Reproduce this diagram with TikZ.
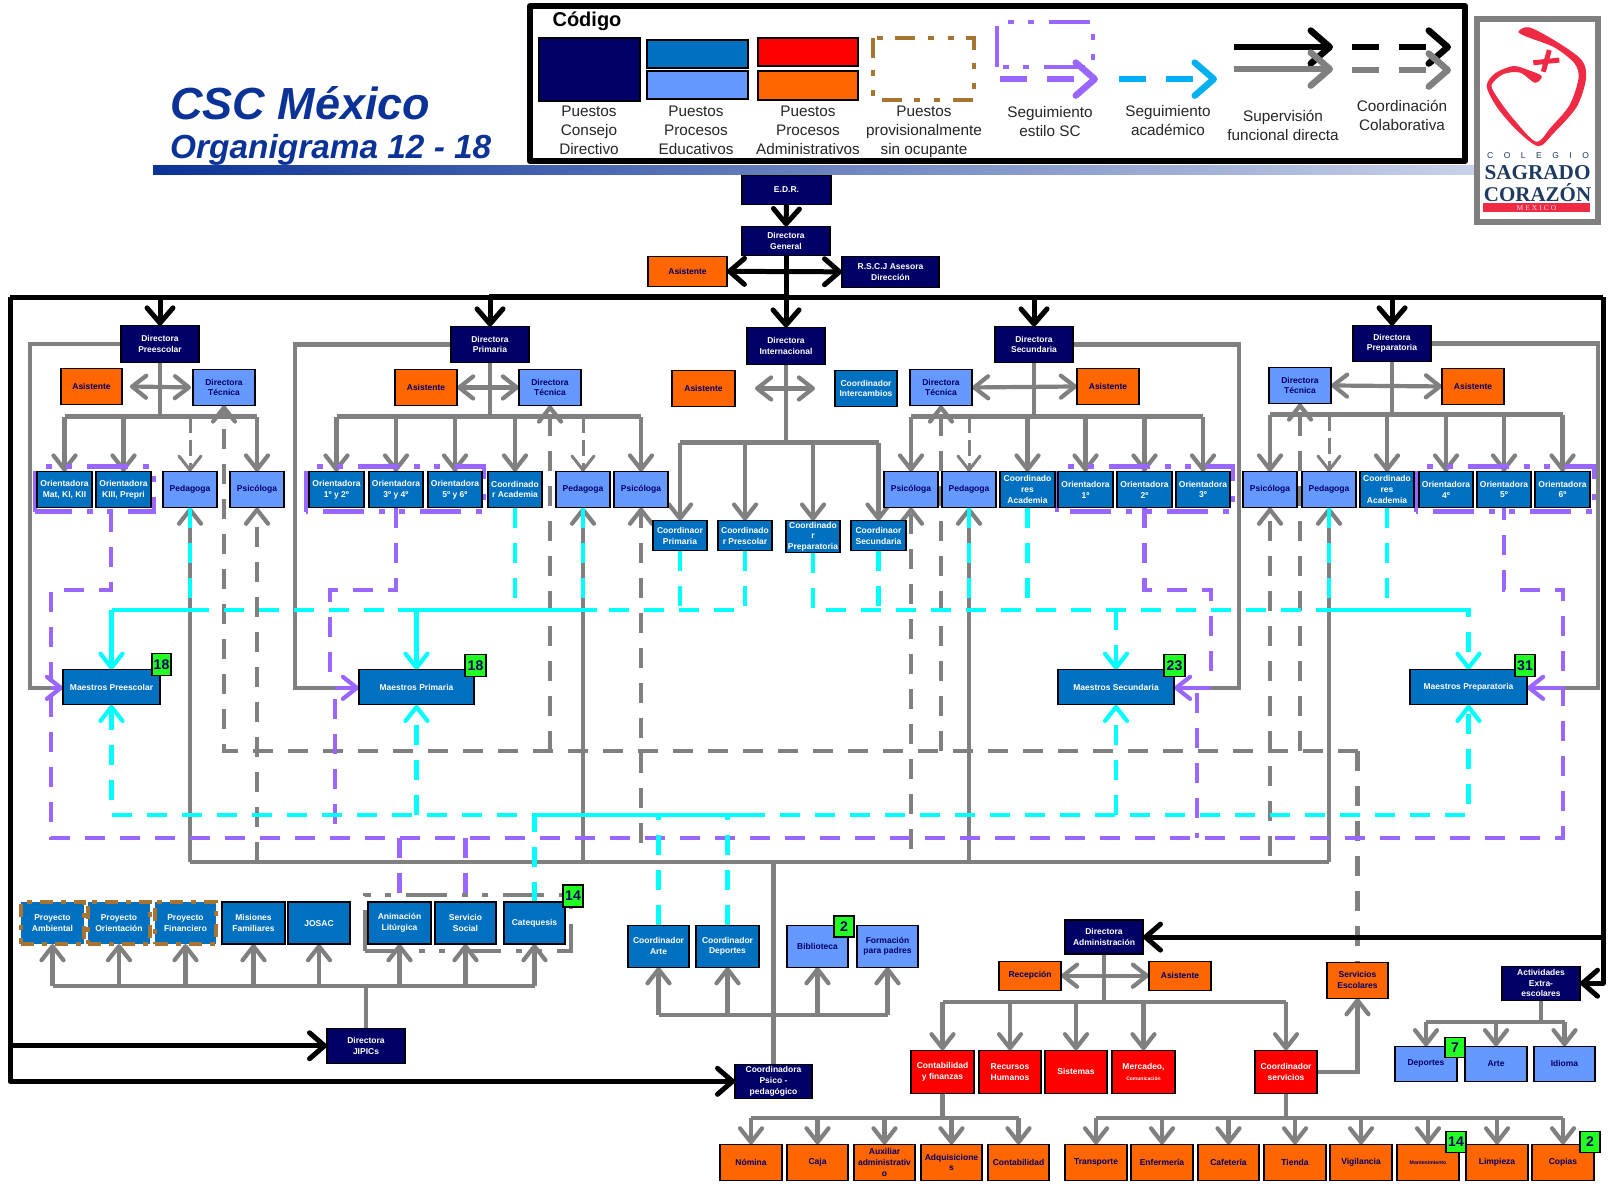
\documentclass[tikz,border=0pt]{standalone}
\usepackage{fontspec}
\setmainfont{Liberation Sans}
\newfontfamily\logoserif{Liberation Serif}
\usetikzlibrary{arrows.meta,calc}
\definecolor{cnavy}{HTML}{000066}
\definecolor{cblue}{HTML}{0070C0}
\definecolor{clight}{HTML}{6699FF}
\definecolor{cred}{HTML}{FF0000}
\definecolor{corange}{HTML}{FF6600}
\definecolor{cgreen}{HTML}{22FF22}
\definecolor{cgray}{HTML}{808080}
\definecolor{cpurple}{HTML}{9966FF}
\definecolor{ccyan}{HTML}{00FFFF}
\definecolor{csky}{HTML}{00B0F0}
\definecolor{cbrown}{HTML}{A87432}
\definecolor{ctitle}{HTML}{0B3296}
\definecolor{clogo}{HTML}{1F3A5F}
\definecolor{clogored}{HTML}{EE2A45}
\pgfdeclarelayer{bg}
\pgfdeclarelayer{conn}
\pgfsetlayers{bg,conn,main}
\newcommand\fs[2]{\fontsize{#1}{#2}\selectfont}
\newcommand\bx[7]{%
  \pgfmathsetmacro\bxx{(#2+#4)/2}\pgfmathsetmacro\bxy{(#3+#5)/2}%
  \pgfmathsetmacro\bxw{#4-#2}\pgfmathsetmacro\bxh{#5-#3}%
  \node[#6,minimum width=\bxw pt,minimum height=\bxh pt] (#1) at (\bxx,\bxy) {#7};}
\tikzset{
  x=1pt,y=-1.0012pt,
  tipS/.tip={Straight Barb[length=14pt,width=22pt,round]},
  tipB/.tip={Straight Barb[length=15pt,width=26pt,round]},
  tipL/.tip={Straight Barb[length=19pt,width=33pt,round]},
  bbase/.style={draw=black,line width=1.3pt,inner sep=0pt,outer sep=0pt,align=center,font=\fs{8.5}{10.7}\bfseries},
  nvbox/.style={bbase,fill=cnavy,text=white},
  blbox/.style={bbase,fill=cblue,text=white},
  lbbox/.style={bbase,fill=clight,text=cnavy},
  orbox/.style={bbase,fill=corange,text=cnavy},
  rdbox/.style={bbase,fill=cred,text=white},
  pjbox/.style={bbase,fill=cblue,text=white,draw=cbrown,line width=3.4pt,dash pattern=on 13pt off 8pt on 5pt off 8pt},
  badge/.style={bbase,fill=cgreen,text=cnavy,font=\fs{14}{14}\bfseries},
  ga/.style={draw=cgray,line width=4.2pt},
  gaa/.style={ga,-tipS},
  gab/.style={ga,{tipS}-{tipS}},
  gd/.style={draw=cgray,line width=4.2pt,dash pattern=on 20pt off 15pt},
  gda/.style={gd,-tipS},
  pu/.style={draw=cpurple,line width=4.2pt,dash pattern=on 20pt off 15pt},
  pua/.style={draw=cpurple,line width=4.2pt,-tipS},
  pufr/.style={draw=cpurple,line width=4.4pt,dash pattern=on 41pt off 15pt on 6pt off 14pt on 6pt off 15pt},
  gyfr/.style={draw=cgray,line width=4.2pt,dash pattern=on 41pt off 15pt on 6pt off 14pt on 6pt off 15pt},
  cy/.style={draw=ccyan,line width=4.2pt,dash pattern=on 20pt off 15pt},
  cya/.style={cy,-tipS},
  cys/.style={draw=ccyan,line width=4.2pt},
  csa/.style={cys,-tipS},
  bk/.style={draw=black,line width=5pt,line join=round},
  bka/.style={bk,-tipB},
  bkb/.style={bk,{tipB}-{tipB}},
  lgd/.style={line width=6.5pt,dash pattern=on 27pt off 20pt,-tipL},
  lg/.style={align=center,inner sep=0pt,font=\fs{15.3}{18.9}\selectfont,text=black!85},
}
\begin{document}
\begin{tikzpicture}
\useasboundingbox (0,0) rectangle (1608,1183.58);
\begin{pgfonlayer}{bg}
\fill[white] (0,0) rectangle (1608,1183.58);
\end{pgfonlayer}
% title bar
\shade[left color=ctitle,right color=ctitle!22!white] (153,165) rectangle (1476,174);
\node[anchor=west,inner sep=0pt,text=ctitle,font=\fs{45}{45}\bfseries\itshape] (titA) at (170,103) {CSC México};
\node[anchor=west,inner sep=0pt,text=ctitle,font=\fs{33.4}{34}\bfseries\itshape] (titB) at (170,150) {Organigrama 12 - 18};
% legend
\draw[line width=6pt,fill=white,line join=round] (530,6) rectangle (1465,161);
\node[inner sep=0pt,font=\fs{20}{20}\bfseries] (lgCod) at (587,21) {Código};
\bx{lgN}{539}{38}{640}{101}{nvbox}{}
\bx{lgB}{647}{40}{748}{68}{blbox}{}
\bx{lgL}{647}{71}{748}{99}{lbbox}{}
\bx{lgR}{758}{38}{858}{66}{rdbox}{}
\bx{lgO}{758}{71}{858}{100}{orbox}{}
\node[lg] (lgT1) at (589,130) {Puestos\\Consejo\\Directivo};
\node[lg] (lgT2) at (696,130) {Puestos\\Procesos\\Educativos};
\node[lg] (lgT3) at (808,130) {Puestos\\Procesos\\Administrativos};
\node[lg] (lgT4) at (924,132) {Puestos\\provisionalmente\\sin ocupante};
\node[lg] (lgT5) at (1050,121) {Seguimiento\\estilo SC};
\node[lg] (lgT6) at (1168,120) {Seguimiento\\académico};
\node[lg] (lgT7) at (1283,125) {Supervisión\\funcional directa};
\node[lg] (lgT8) at (1402,115) {Coordinación\\Colaborativa};
\draw[draw=cbrown,line width=4.2pt,dash pattern=on 20pt off 12pt on 6pt off 14pt on 6pt off 13pt] (873,38) rectangle (974,100);
\draw[pufr] (997,67) -- (997,22) -- (1093,22) -- (1093,67) -- cycle;
\coordinate (lgA1) at (1000,79); \coordinate (lgA2) at (1098,79);
\coordinate (lgB1) at (1119,79); \coordinate (lgB2) at (1217,79);
\coordinate (lgC1) at (1234,47); \coordinate (lgC2) at (1333,47);
\coordinate (lgD1) at (1234,69); \coordinate (lgD2) at (1333,69);
\coordinate (lgE1) at (1352,47); \coordinate (lgE2) at (1451,47);
\coordinate (lgF1) at (1352,70); \coordinate (lgF2) at (1451,70);
\draw[draw=cpurple,lgd] (lgA1) -- (lgA2);
\draw[draw=csky,lgd] (lgB1) -- (lgB2);
\draw[draw=black,line width=6.5pt,-tipL] (lgC1) -- (lgC2);
\draw[draw=cgray,line width=6.5pt,-tipL] (lgD1) -- (lgD2);
\draw[draw=black,lgd] (lgE1) -- (lgE2);
\draw[draw=cgray,lgd] (lgF1) -- (lgF2);
% logo
\draw[draw=cgray,line width=6pt,fill=white] (1476.5,19) rectangle (1598,222);
\fill[clogored] plot[smooth cycle,tension=0.5] coordinates {(1518.3,31.7) (1529.3,27.3) (1556.7,41.7) (1581.7,60) (1586,78.3) (1576.7,106.7) (1553.3,133.3) (1538.3,146) (1516.7,130) (1496.7,106.7) (1486.7,86) (1495,73.3) (1513.3,66) (1528.3,70) (1541.7,76) (1535,82.7) (1520,72.5) (1503.3,74) (1491.5,85) (1498,98.3) (1513,118.3) (1536,141.5) (1551,127) (1569.5,105) (1578.5,78.3) (1574.5,63.3) (1554.3,47.3) (1526.7,36.7)};
\draw[draw=clogored,line width=5pt] (1533.3,62.7) -- (1559.3,60) (1549.3,50) -- (1543.3,71.7);
\node[inner sep=0pt,text=clogo,font=\fs{8.5}{9}\selectfont] (lgCol) at (1538,155) {C\hskip10.5pt O\hskip10.5pt L\hskip10.5pt E\hskip10.5pt G\hskip10.5pt I\hskip10.5pt O};
\node[inner sep=0pt,text=clogo,font=\fs{21.2}{22}\logoserif\bfseries] (lgSag) at (1537.5,172) {SAGRADO};
\node[inner sep=0pt,text=clogo,font=\fs{21}{22}\logoserif\bfseries] (lgCor) at (1537.5,192) {CORAZÓN};
\node[fill=clogored,minimum width=107pt,minimum height=9pt,inner sep=0pt,text=white!85!clogored,font=\fs{7.5}{7.5}\logoserif] (lgMex) at (1536.5,207.5) {M\hskip2pt E\hskip2pt X\hskip2pt I\hskip2pt C\hskip2pt O};
% top nodes
\bx{edr}{742}{175}{831}{204}{nvbox}{E.D.R.}
\bx{dg}{742}{226}{830}{255}{nvbox}{Directora\\General}
\bx{asG}{648}{256}{727}{286}{orbox}{Asistente}
\bx{rscj}{842}{256}{939}{287}{nvbox}{R.S.C.J Asesora\\Dirección}
% preescolar
\bx{dPre}{121}{325}{199}{362}{nvbox}{Directora\\Preescolar}
\bx{asPre}{61}{368}{122}{404}{orbox}{Asistente}
\bx{dtPre}{193}{369}{255}{405}{lbbox}{Directora\\Técnica}
\bx{orA}{37}{471}{92}{507}{blbox}{Orientadora\\Mat, KI, KII}
\bx{orB}{96}{471}{151}{507}{blbox}{Orientadora\\KIII, Prepri}
\bx{pedPre}{163}{471}{217}{507}{lbbox}{Pedagoga}
\bx{psiPre}{230}{471}{284}{507}{lbbox}{Psicóloga}
\bx{mPre}{63}{669}{160}{704}{blbox}{Maestros Preescolar}
\bx{bgPre}{152}{653}{171}{675}{badge}{18}
% primaria
\bx{dPri}{451}{326}{529}{362}{nvbox}{Directora\\Primaria}
\bx{asPri}{395}{369}{457}{405}{orbox}{Asistente}
\bx{dtPri}{519}{369}{581}{405}{lbbox}{Directora\\Técnica}
\bx{orC}{309}{471}{364}{507}{blbox}{Orientadora\\1º y 2º}
\bx{orD}{369}{471}{423}{507}{blbox}{Orientadora\\3º y 4º}
\bx{orE}{428}{471}{482}{507}{blbox}{Orientadora\\5º y 6º}
\bx{caPri}{488}{471}{542}{507}{blbox}{Coordinado\\r Academia}
\bx{pedPri}{556}{471}{610}{507}{lbbox}{Pedagoga}
\bx{psiPri}{614}{471}{668}{507}{lbbox}{Psicóloga}
\bx{mPri}{359}{669}{474}{704}{blbox}{Maestros Primaria}
\bx{bgPri}{465}{654}{486}{676}{badge}{18}
% internacional
\bx{dInt}{747}{327}{825}{364}{nvbox}{Directora\\Internacional}
\bx{asInt}{672}{370}{735}{406}{orbox}{Asistente}
\bx{cInt}{835}{370}{897}{406}{blbox}{Coordinador\\Intercambios}
\bx{cA}{653}{520}{707}{550}{blbox}{Coordinaor\\Primaria}
\bx{cB}{718}{520}{772}{550}{blbox}{Coordinado\\r Prescolar}
\bx{cC}{786}{520}{840}{552}{blbox}{Coordinado\\r\\Preparatoria}
\bx{cD}{851}{520}{906}{550}{blbox}{Coordinaor\\Secundaria}
% secundaria
\bx{dSec}{995}{326}{1073}{362}{nvbox}{Directora\\Secundaria}
\bx{dtSec}{910}{369}{972}{405}{lbbox}{Directora\\Técnica}
\bx{asSec}{1077}{368}{1139}{404}{orbox}{Asistente}
\bx{psiSec}{884}{471}{938}{507}{lbbox}{Psicóloga}
\bx{pedSec}{942}{471}{996}{507}{lbbox}{Pedagoga}
\bx{caSec}{1000}{471}{1055}{507}{blbox}{Coordinado\\res\\Academia}
\bx{orF}{1058}{471}{1113}{507}{blbox}{Orientadora\\1º}
\bx{orG}{1117}{471}{1172}{507}{blbox}{Orientadora\\2º}
\bx{orH}{1176}{471}{1230}{507}{blbox}{Orientadora\\3º}
\bx{mSec}{1058}{669}{1174}{704}{blbox}{Maestros Secundaria}
\bx{bgSec}{1164}{654}{1185}{676}{badge}{23}
% preparatoria
\bx{dPrp}{1353}{325}{1431}{361}{nvbox}{Directora\\Preparatoria}
\bx{dtPrp}{1269}{367}{1331}{403}{lbbox}{Directora\\Técnica}
\bx{asPrp}{1442}{368}{1504}{404}{orbox}{Asistente}
\bx{psiPrp}{1243}{471}{1297}{507}{lbbox}{Psicóloga}
\bx{pedPrp}{1302}{471}{1356}{507}{lbbox}{Pedagoga}
\bx{caPrp}{1360}{471}{1414}{507}{blbox}{Coordinado\\res\\Academia}
\bx{orI}{1419}{471}{1473}{507}{blbox}{Orientadora\\4º}
\bx{orJ}{1477}{471}{1531}{507}{blbox}{Orientadora\\5º}
\bx{orK}{1535}{471}{1590}{507}{blbox}{Orientadora\\6º}
\bx{mPrp}{1410}{669}{1527}{704}{blbox}{Maestros Preparatoria}
\bx{bgPrp}{1515}{654}{1535}{676}{badge}{31}
% JIPIC row
\bx{pA}{21}{901}{84}{943}{pjbox}{Proyecto\\Ambiental}
\bx{pB}{88}{901}{150}{943}{pjbox}{Proyecto\\Orientación}
\bx{pC}{155}{901}{216}{943}{pjbox}{Proyecto\\Financiero}
\bx{misi}{222}{901}{285}{943}{blbox}{Misiones\\Familiares}
\bx{josac}{288}{901}{350}{943}{blbox}{JOSAC}
\bx{anim}{368}{901}{431}{943}{blbox}{Animación\\Litúrgica}
\bx{serv}{435}{901}{496}{943}{blbox}{Servicio\\Social}
\bx{cate}{504}{901}{565}{943}{blbox}{Catequesis}
\bx{bgCat}{563}{884}{583}{906}{badge}{14}
\bx{jipic}{327}{1027}{405}{1062}{nvbox}{Directora\\JIPICs}
\bx{psico}{735}{1063}{812}{1097}{nvbox}{Coordinadora\\Psico -\\pedagógico}
% psico row
\bx{cArt}{628}{924}{689}{966}{blbox}{Coordinador\\Arte}
\bx{cDep}{696}{924}{759}{966}{blbox}{Coordinador\\Deportes}
\bx{bibl}{787}{924}{848}{966}{lbbox}{Biblioteca}
\bx{form}{857}{924}{918}{966}{lbbox}{Formación\\para padres}
\bx{bgBib}{834}{915}{854}{936}{badge}{2}
% administracion
\bx{dAdm}{1065}{919}{1143}{953}{nvbox}{Directora\\Administración}
\bx{rece}{999}{960}{1061}{989}{orbox}{Recepción}
\bx{asAdm}{1149}{960}{1211}{989}{orbox}{Asistente}
\bx{sEsc}{1327}{961}{1388}{997}{orbox}{Servicios\\Escolares}
\bx{acti}{1502}{965}{1580}{999}{nvbox}{Actividades\\Extra-\\escolares}
\bx{rConta}{911}{1049}{974}{1092}{rdbox}{Contabilidad\\y finanzas}
\bx{rHum}{979}{1049}{1041}{1092}{rdbox}{Recursos\\Humanos}
\bx{rSis}{1045}{1049}{1107}{1092}{rdbox}{Sistemas}
\bx{rMer}{1112}{1049}{1175}{1092}{rdbox}{Mercadeo,\\{\fs{5}{7}Comunicación}}
\bx{rSrv}{1255}{1049}{1317}{1092}{rdbox}{Coordinador\\servicios}
\bx{xDep}{1395}{1045}{1457}{1080}{lbbox}{Deportes}
\bx{xArt}{1465}{1045}{1527}{1080}{lbbox}{Arte}
\bx{xIdi}{1534}{1045}{1595}{1080}{lbbox}{Idioma}
\bx{bgDep}{1445}{1036}{1465}{1056}{badge}{7}
% bottom row
\bx{nomi}{720}{1143}{782}{1179}{orbox}{Nómina}
\bx{caja}{787}{1143}{848}{1179}{orbox}{Caja}
\bx{auxi}{854}{1143}{915}{1179}{orbox}{Auxiliar\\administrativ\\o}
\bx{adqu}{921}{1143}{982}{1179}{orbox}{Adquisicione\\s}
\bx{cont}{988}{1143}{1049}{1179}{orbox}{Contabilidad}
\bx{tran}{1065}{1143}{1127}{1179}{orbox}{Transporte}
\bx{enfe}{1131}{1143}{1193}{1179}{orbox}{Enfermería}
\bx{cafe}{1198}{1143}{1259}{1179}{orbox}{Cafetería}
\bx{tien}{1264}{1143}{1326}{1179}{orbox}{Tienda}
\bx{vigi}{1330}{1143}{1392}{1179}{orbox}{Vigilancia}
\bx{mant}{1397}{1143}{1459}{1179}{orbox}{\fs{5.2}{7}Mantenimiento}
\bx{limp}{1466}{1143}{1528}{1179}{orbox}{Limpieza}
\bx{copi}{1532}{1143}{1594}{1179}{orbox}{Copias}
\bx{bgMan}{1446}{1130}{1466}{1151}{badge}{14}
\bx{bgCop}{1580}{1130}{1600}{1151}{badge}{2}
\begin{pgfonlayer}{conn}
% named bus coordinates
\coordinate (fTL) at (10,297); \coordinate (fTR) at (1603,297);
\coordinate (bPre) at (0,416); \coordinate (bPri) at (0,416); \coordinate (bInt) at (0,442);
\coordinate (bSec) at (0,416); \coordinate (bPrp) at (0,414);
\coordinate (gPre) at (30,687); \coordinate (gPri) at (295,687);
\coordinate (gSec) at (1239,687); \coordinate (gPrp) at (1598,687);
\coordinate (gBot) at (0,861); \coordinate (hDash) at (0,750);
\coordinate (cyU) at (0,609); \coordinate (cyL) at (0,814);
\coordinate (bJip) at (0,985); \coordinate (bArt) at (0,1014);
\coordinate (bAdm) at (0,1001); \coordinate (bAct) at (0,1021); \coordinate (bBot) at (0,1117);
\coordinate (fDbl) at (489,295);
% gray: director to team
\draw[ga] (dPre.south) -- (dPre.south |- bPre);
\draw[ga] (dPri.south) -- (dPri.south |- bPri);
\draw[ga] (dInt.south) -- (dInt.south |- bInt);
\draw[ga] (dSec.south) -- (dSec.south |- bSec);
\draw[ga] (dPrp.south) -- (dPrp.south |- bPrp);
\draw[gab] ($(asPre.east)+(8,0)$) -- ($(dtPre.west)+(-2,0)$);
\draw[gab] (asPri.east) -- (dtPri.west);
\draw[gab] ($(asInt.east)+(20,0)$) -- ($(cInt.west)+(-20,0)$);
\draw[gab] (dtSec.east) -- (asSec.west);
\draw[gab] (dtPrp.east) -- (asPrp.west);
\draw[ga] (orA.north |- bPre) -- (psiPre.north |- bPre);
\draw[ga] (orC.north |- bPri) -- (psiPri.north |- bPri);
\draw[ga] (cA.north |- bInt) -- (cD.north |- bInt);
\draw[ga] (psiSec.north |- bSec) -- (orH.north |- bSec);
\draw[ga] (psiPrp.north |- bPrp) -- (orK.north |- bPrp);
\foreach \n in {orA,orB,psiPre} \draw[gaa] (bPre -| \n.north) -- (\n.north);
\foreach \n in {orC,orD,orE,caPri,psiPri} \draw[gaa] (bPri -| \n.north) -- (\n.north);
\foreach \n in {cA,cB,cC,cD} \draw[gaa] (bInt -| \n.north) -- (\n.north);
\foreach \n in {psiSec,caSec,orF,orG,orH} \draw[gaa] (bSec -| \n.north) -- (\n.north);
\foreach \n in {psiPrp,caPrp,orI,orJ,orK} \draw[gaa] (bPrp -| \n.north) -- (\n.north);
\foreach \n in {pedPre,pedPri,pedSec} \draw[draw=cgray,line width=3pt,dash pattern=on 16pt off 7pt,-tipS] (bPre -| \n.north) -- (\n.north);
\draw[draw=cgray,line width=3pt,dash pattern=on 16pt off 7pt,-tipS] (bPrp -| pedPrp.north) -- (pedPrp.north);
% gray: to teachers
\draw[ga] (dPre.west) -| (gPre) -- (gPre -| mPre.west);
\draw[ga] (dPri.west) -| (gPri) -- (gPri -| mPri.west);
\draw[ga] (dSec.east) -| (gSec) -- (gSec -| mSec.east);
\draw[ga] (dPrp.east) -| (gPrp) -- (gPrp -| mPrp.east);
% gray: psicopedagogico bus
\draw[ga] (psico.north) -- (psico.north |- gBot);
\draw[ga] (gBot -| pedPre.south) -- (gBot -| pedPrp.south);
\foreach \n in {pedPre,pedPri,pedSec,pedPrp} \draw[gaa] (gBot -| \n.south) -- (\n.south);
% gray dashed
\draw[gda] (gBot -| psiPre.south) -- (psiPre.south);
\coordinate (eA) at (0,842); \coordinate (eB) at (0,848); \coordinate (eC) at (0,855);
\draw[gda] (eA -| psiPri.south) -- (psiPri.south);
\draw[gda] (eB -| psiSec.south) -- (psiSec.south);
\draw[gda] (eC -| psiPrp.south) -- (psiPrp.south);
\foreach \n in {dtPri,dtSec,dtPrp} \draw[gda] (hDash -| \n.south) -- (\n.south);
\draw[gda] (hDash -| sEsc.north) -- (hDash -| dtPre.south) -- (dtPre.south);
\draw[gd] (hDash -| sEsc.north) -- (sEsc.north);
% JIPIC
\draw[ga] (jipic.north) -- (jipic.north |- bJip);
\draw[ga] (bJip -| pA.south) -- (bJip -| cate.south);
\foreach \n in {pA,pB,pC,misi,josac,anim,serv,cate} \draw[gaa] (bJip -| \n.south) -- (\n.south);
\draw[gyfr] (365,950) -- (365,894) -- (571,894) -- (571,950) -- cycle;
% arts
\draw[ga] (bArt -| cArt.south) -- (bArt -| form.south);
\foreach \n in {cArt,cDep,bibl,form} \draw[gaa] (bArt -| \n.south) -- (\n.south);
% admin
\draw[ga] (dAdm.south) -- (dAdm.south |- bAdm);
\draw[gab] (rece.east) -- (asAdm.west);
\draw[ga] (bAdm -| rConta.north) -- (bAdm -| rSrv.north);
\foreach \n in {rConta,rHum,rSis,rMer,rSrv} \draw[gaa] (bAdm -| \n.north) -- (\n.north);
\draw[gaa] (rSrv.east) -| (sEsc.south);
\draw[ga] (acti.south) -- (acti.south |- bAct);
\draw[ga] (bAct -| xDep.north) -- (bAct -| xIdi.north);
\foreach \n in {xDep,xArt,xIdi} \draw[gaa] (bAct -| \n.north) -- (\n.north);
\draw[ga] (rConta.south) -- (rConta.south |- bBot);
\draw[ga] (rSrv.south) -- (rSrv.south |- bBot);
\draw[ga] (bBot -| nomi.north) -- (bBot -| cont.north);
\draw[ga] (bBot -| tran.north) -- (bBot -| copi.north);
\foreach \n in {nomi,caja,auxi,adqu,cont,tran,enfe,cafe,tien,vigi,mant,limp,copi} \draw[gaa] (bBot -| \n.north) -- (\n.north);
% purple frames
\draw[pufr] (35,511) -- (35,466) -- (154,466) -- (154,511) -- cycle;
\draw[pufr] (306,511) -- (306,466) -- (484,466) -- (484,511) -- cycle;
\draw[pufr] (1057,511) -- (1057,466) -- (1233,466) -- (1233,511) -- cycle;
\draw[pufr] (1416,511) -- (1416,466) -- (1594,466) -- (1594,511) -- cycle;
% purple connectors
\coordinate (puA) at (111,511); \coordinate (puB) at (111,589); \coordinate (puC) at (51,589); \coordinate (puD) at (51,837);
\coordinate (puE) at (1563,837); \coordinate (puF) at (1563,589);
\draw[pu] (puA) -- (puB) -- (puC) -- (puD) -- (puE) -- (puF) -- (puF -| orJ.south) -- (orJ.south);
\coordinate (puG) at (330,589); \coordinate (puH) at (330,673); \coordinate (puI) at (335,698); \coordinate (puJ) at (335,823);
\draw[pu] (orD.south) -- (orD.south |- puG) -- (puG) -- (puH);
\draw[pu] (puI) -- (puJ);
\coordinate (puK) at (1211,589); \coordinate (puL) at (1211,675); \coordinate (puM) at (1197,692); \coordinate (puN) at (1197,837);
\draw[pu] (orG.south) -- (orG.south |- puK) -- (puK) -- (puL);
\draw[pu] (puM) -- (puN);
\draw[pua] (puC |- gPre) -- (gPre -| mPre.west);
\draw[pua] (puI |- gPri) -- (gPri -| mPri.west);
\draw[pua] (puL |- gSec) -- (gSec -| mSec.east);
\draw[pua] (puE |- gPrp) -- (gPrp -| mPrp.east);
\draw[pu] (puD -| anim.north) -- (anim.north);
\draw[pu] (puD -| serv.north) -- (serv.north);
% cyan upper
\coordinate (cyS1) at (205,609); \coordinate (cyS2) at (398,609); \coordinate (cyS3) at (597,609); \coordinate (cyS4) at (1330,609);
\draw[cy] (cB.south) -- (cB.south |- cyU) -- (cyU -| mPre.north);
\draw[csa] (cyU -| mPre.north) -- (mPre.north);
\draw[cys] (cyU -| mPre.north) -- (cyS1);
\draw[cys] (cyS2) -- (cyS3);
\draw[csa] (cyU -| mPri.north) -- (mPri.north);
\foreach \n in {cA,caPri,pedPre,pedPri,cD,caSec,pedSec,caPrp,pedPrp} \draw[cy] (\n.south) -- (\n.south |- cyU);
\draw[cya] (cC.south) -- (cC.south |- cyU) -- (cyU -| mPrp.north) -- (mPrp.north);
\draw[cys] (cyS4) -- (cyU -| mPrp.north);
\draw[cya] (cyU -| mSec.north) -- (mSec.north);
% cyan lower
\draw[cya] (cate.north) -- (cate.north |- cyL) -- (cyL -| mPre.south) -- (mPre.south);
\draw[cya] (cate.north |- cyL) -- (cyL -| mPrp.south) -- (mPrp.south);
\coordinate (cyS5) at (750,814);
\draw[cys] (cate.north |- cyL) -- (cyS5);
\draw[cya] (cyL -| mPri.south) -- (mPri.south);
\draw[cya] (cyL -| mSec.south) -- (mSec.south);
\draw[cy] (cArt.north) -- (cArt.north |- cyL);
\draw[cy] (cDep.north) -- (cDep.north |- cyL);
% black supervision
\draw[bka] (edr.south) -- (dg.north);
\draw[bkb] (asG.east) -- (rscj.west);
\draw[bka] (dg.south) -- (dInt.north);
\draw[bk] (fTR) -- (fTL);
\draw[draw=black,line width=3pt] (fDbl) -- (fDbl -| dg.south);
\draw[bka] (fTL) -- (fTL |- psico.west) -- (psico.west);
\draw[bka] (fTL |- jipic.west) -- (jipic.west);
\draw[bka] (fTR) -- (fTR |- acti.east) -- (acti.east);
\draw[bka] (fTR |- dAdm.east) -- (dAdm.east);
\foreach \n in {dPre,dPri,dSec,dPrp} \draw[bka] (fTL -| \n.north) -- (\n.north);
\end{pgfonlayer}
\end{tikzpicture}
\end{document}
